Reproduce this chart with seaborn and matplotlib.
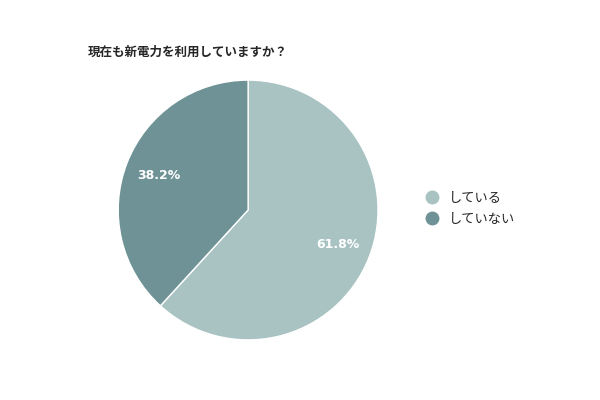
import matplotlib
matplotlib.use("Agg")
import matplotlib.pyplot as plt
import seaborn as sns
import numpy as np
from matplotlib.lines import Line2D

sns.set_theme(style="white")
plt.rcParams['font.family'] = ['Noto Sans CJK JP', 'DejaVu Sans']

labels = ["している", "していない"]
values = [61.8, 38.2]
colors = ["#a9c3c3", "#6e9295"]
title = "現在も新電力を利用していますか？"

fig = plt.figure(figsize=(6, 4), dpi=100)
ax = fig.add_axes([0.197, 0.15, 0.433, 0.65])
wedges, texts = ax.pie(values, colors=colors, startangle=90, counterclock=False,
                       wedgeprops=dict(edgecolor="white", linewidth=1))
ang = 90
for w, v in zip(wedges, values):
    mid = np.deg2rad(ang - v * 3.6 / 2)
    ang -= v * 3.6
    ax.text(0.74 * np.cos(mid), 0.74 * np.sin(mid), f"{v}%", ha="center", va="center",
            color="white", fontsize=9, fontweight="bold", family=['DejaVu Sans'])
ax.set_xlim(-1, 1)
ax.set_ylim(-1, 1)
ax.set_aspect("equal")
fig.text(88 / 600, 1 - 52 / 400, title, fontsize=9, fontweight="bold", va="center", ha="left")
handles = [Line2D([0], [0], marker="o", linestyle="", markersize=9,
                  markerfacecolor=c, markeredgecolor=c) for c in colors]
fig.legend(handles, labels, loc="center left", bbox_to_anchor=(407 / 600, 1 - 209 / 400),
           frameon=False, fontsize=9.5, handletextpad=0.3, labelspacing=0.6)
fig.savefig("out.png", dpi=100)
